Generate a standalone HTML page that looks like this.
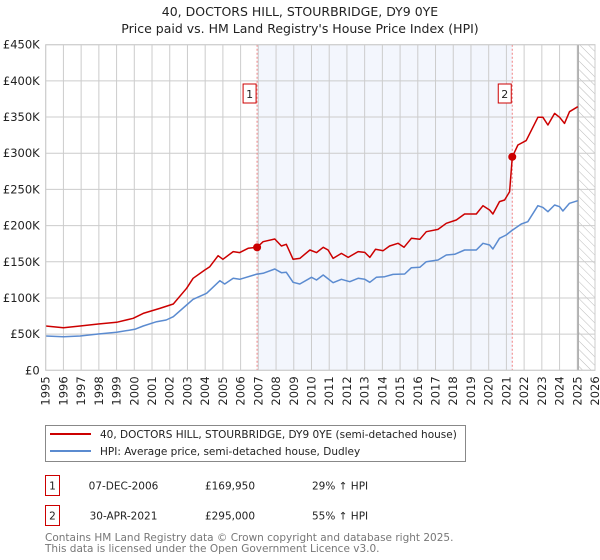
<!DOCTYPE html>
<html><head><meta charset="utf-8"><style>
body{margin:0;background:#fff;font-family:"DejaVu Sans","Liberation Sans",sans-serif;}
svg{display:block}
</style></head><body>
<svg id="c" width="600" height="560" xmlns="http://www.w3.org/2000/svg"></svg>
<script>
const yearTicks=[1995,1996,1997,1998,1999,2000,2001,2002,2003,2004,2005,2006,2007,2008,2009,2010,2011,2012,2013,2014,2015,2016,2017,2018,2019,2020,2021,2022,2023,2024,2025,2026];
const valueTicks=[0,50,100,150,200,250,300,350,400,450];
const valueTickLabels=["£0","£50K","£100K","£150K","£200K","£250K","£300K","£350K","£400K","£450K"];
const priceYears=[1995.0,1996.0,1996.94,1997.97,1999.0,1999.94,2000.5,2001.44,2002.2,2002.95,2003.32,2003.98,2004.26,2004.73,2005.0,2005.58,2005.95,2006.42,2006.93,2007.27,2007.93,2008.3,2008.58,2008.96,2009.34,2009.91,2010.28,2010.66,2010.94,2011.22,2011.69,2012.07,2012.63,2013.01,2013.29,2013.61,2014.04,2014.41,2014.88,2015.22,2015.64,2016.11,2016.48,2017.14,2017.61,2018.17,2018.64,2019.3,2019.68,2020.05,2020.24,2020.61,2020.9,2021.18,2021.33,2021.65,2022.12,2022.78,2023.06,2023.34,2023.72,2024.0,2024.28,2024.56,2025.03];
const priceValues=[61.2,58.9,61.2,64.0,66.3,71.8,78.7,85.6,91.6,113.3,127.1,138.6,143.2,158.4,153.4,164.0,162.6,168.6,169.95,177.8,181.5,171.8,174.1,153.4,154.7,166.2,162.6,170.0,166.2,154.7,161.6,156.1,164.0,163.0,156.1,167.2,165.3,171.8,175.5,170.0,182.4,181.0,191.6,194.8,203.1,207.7,216.0,216.0,227.5,221.5,216.0,233.1,235.4,246.9,295.0,311.4,317.4,349.6,349.6,339.0,355.1,349.6,341.3,357.4,364.3];
const hpiYears=[1995.0,1996.0,1996.94,1997.97,1999.0,2000.03,2000.5,2001.26,2001.8,2002.2,2002.95,2003.32,2004.08,2004.83,2005.1,2005.58,2005.95,2006.86,2007.27,2007.93,2008.3,2008.58,2008.96,2009.34,2010.0,2010.28,2010.66,2011.22,2011.69,2012.16,2012.63,2013.01,2013.29,2013.66,2014.13,2014.6,2015.26,2015.64,2016.11,2016.48,2017.14,2017.61,2018.08,2018.64,2019.3,2019.68,2020.05,2020.24,2020.61,2020.99,2021.27,2021.84,2022.21,2022.78,2023.06,2023.34,2023.72,2024.0,2024.19,2024.56,2025.03];
const hpiValues=[47.4,46.5,47.4,50.2,52.5,56.6,61.2,67.2,69.5,74.1,90.3,98.1,106.4,123.9,119.3,127.1,125.7,132.6,134.0,140.0,134.9,135.4,121.6,119.3,128.5,124.8,131.7,121.1,125.7,122.5,127.1,125.7,121.6,128.5,129.4,132.6,133.1,141.8,142.3,150.1,152.4,159.4,160.3,166.3,166.3,175.5,173.2,167.6,182.4,187.0,192.5,202.2,205.4,227.5,225.2,219.2,228.5,226.1,220.2,230.8,234.4];
const saleYears=[2006.93,2021.33];
const saleValues=[169.95,295.0];
const saleLabels=["1","2"];

const L=45.7,R=595,T=44.7,B=370.3;
const X=y=>L+(y-1995)*(R-L)/31;
const Y=v=>B-v*(B-T)/450;
const svg=document.getElementById('c');
const NS="http://www.w3.org/2000/svg";
function mk(tag,attrs,parent){const e=document.createElementNS(NS,tag);for(const k in attrs)e.setAttribute(k,attrs[k]);(parent||svg).appendChild(e);return e;}

let t=mk('text',{x:300,y:16,'text-anchor':'middle','font-size':12.5,fill:'#222'});t.textContent="40, DOCTORS HILL, STOURBRIDGE, DY9 0YE";


t=mk('text',{x:300,y:33,'text-anchor':'middle','font-size':12.5,fill:'#222'});t.textContent="Price paid vs. HM Land Registry's House Price Index (HPI)";



let sh=mk('rect',{x:X(saleYears[0]),y:T,width:X(saleYears[1])-X(saleYears[0]),height:B-T,fill:'#f3f6fd'});


const defs=mk('defs',{});
const pat=mk('pattern',{id:'h',width:6,height:6,patternUnits:'userSpaceOnUse',patternTransform:'rotate(-45)'},defs);
mk('line',{x1:0,y1:0,x2:0,y2:6,stroke:'#bbb','stroke-width':1},pat);
let hr=mk('rect',{x:X(2025.1),y:T,width:R-X(2025.1),height:B-T,fill:'url(#h)'});



yearTicks.forEach(y=>{
  let g=mk('line',{x1:X(y),x2:X(y),y1:T,y2:B,stroke:'#ccc','stroke-width':1});
  
  
  let tx=mk('text',{transform:`translate(${X(y)+4},${B+6}) rotate(-90)`,'text-anchor':'end','font-size':11.5,fill:'#222'});
  tx.textContent=y;
  
  
});
valueTicks.forEach((v,i)=>{
  let g=mk('line',{x1:L,x2:R,y1:Y(v),y2:Y(v),stroke:'#ccc','stroke-width':1});
  
  
  let tx=mk('text',{x:L-6,y:Y(v)+4,'text-anchor':'end','font-size':11.5,fill:'#222'});
  tx.textContent=valueTickLabels[i];
  
  
});
let nl=mk('line',{x1:X(2025.05),x2:X(2025.05),y1:T,y2:B,stroke:'#999','stroke-width':1.2});



saleYears.forEach((y,i)=>{
  let l=mk('line',{x1:X(y),x2:X(y),y1:T,y2:B,stroke:'#f08080','stroke-width':1,'stroke-dasharray':'2,2'});
  
  
  let bx=mk('rect',{x:X(y)-14,y:84,width:13,height:19,fill:'#fff',stroke:'#c00','stroke-width':1});
  
  
  let tx=mk('text',{x:X(y)-7.5,y:98,'text-anchor':'middle','font-size':11,fill:'#222'});
  tx.textContent=saleLabels[i];
  
  
});

function line(xs,vs,color,name){
  const d=xs.map((y,i)=>(i?'L':'M')+X(y).toFixed(1)+','+Y(vs[i]).toFixed(1)).join('');
  let p=mk('path',{d:d,fill:'none',stroke:color,'stroke-width':1.5,'stroke-linejoin':'round'});
  
  
}
line(hpiYears,hpiValues,'#5b8bd0','hpi-line');
line(priceYears,priceValues,'#cc0000','price-paid-line');
saleYears.forEach((y,i)=>{
  let c=mk('circle',{cx:X(y),cy:Y(saleValues[i]),r:4,fill:'#cc0000'});
  
  
});
let ax=mk('rect',{x:L,y:T,width:R-L,height:B-T,fill:'none',stroke:'#ccc','stroke-width':1});



let lg=mk('rect',{x:45.5,y:425.5,width:420,height:36,fill:'#fff',stroke:'#888','stroke-width':1});


let ll=mk('line',{x1:50,x2:91,y1:434,y2:434,stroke:'#cc0000','stroke-width':2});


ll=mk('line',{x1:50,x2:91,y1:451,y2:451,stroke:'#5b8bd0','stroke-width':2});


t=mk('text',{x:100,y:438,'font-size':10.5,fill:'#222'});t.textContent="40, DOCTORS HILL, STOURBRIDGE, DY9 0YE (semi-detached house)";


t=mk('text',{x:100,y:455,'font-size':10.5,fill:'#222'});t.textContent="HPI: Average price, semi-detached house, Dudley";



const rowsDate=["07-DEC-2006","30-APR-2021"],rowsPrice=["£169,950","£295,000"],rowsHpi=["29% ↑ HPI","55% ↑ HPI"];
[0,1].forEach(i=>{
  const yy=475.5+i*30;
  let b=mk('rect',{x:45.5,y:yy,width:14,height:20,fill:'#fff',stroke:'#c00'});
  
  
  const cells=[[52.5,saleLabels[i],'middle'],[123.5,rowsDate[i],'middle'],[230,rowsPrice[i],'middle'],[312,rowsHpi[i],'start']];
  cells.forEach(c=>{
    let tx=mk('text',{x:c[0],y:yy+14,'text-anchor':c[2],'font-size':10.5,fill:'#222'});
    tx.textContent=c[1];
    
    
  });
});
t=mk('text',{x:45,y:541,'font-size':10.5,fill:'#777'});t.textContent="Contains HM Land Registry data © Crown copyright and database right 2025.";


t=mk('text',{x:45,y:552,'font-size':10.5,fill:'#777'});t.textContent="This data is licensed under the Open Government Licence v3.0.";


</script>
</body></html>
